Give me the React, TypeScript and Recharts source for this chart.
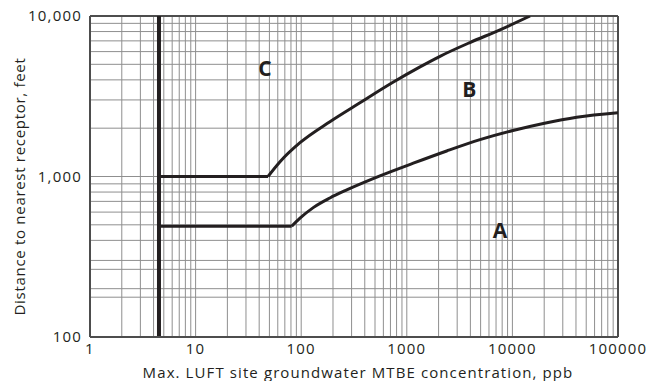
import React from 'react';
import { LineChart, Line, XAxis, YAxis, CartesianGrid, ReferenceLine, ReferenceDot } from 'recharts';

// ---- data ----
const X_TICKS = [1, 10, 100, 1000, 10000, 100000];
const Y_TICKS = [100, 1000, 10000];

const X_GRID = [
  1, 2, 3, 4, 5, 6, 7, 8, 9,
  10, 20, 30, 40, 50, 60, 70, 80, 90,
  100, 200, 300, 400, 500, 600, 700, 800, 900,
  1000, 2000, 3000, 4000, 5000, 6000, 7000, 8000, 9000,
  10000, 20000, 30000, 40000, 50000, 60000, 70000, 80000, 90000,
  100000,
];
const Y_GRID = [
  100, 177, 200, 264, 300, 400, 500, 600, 700, 800, 900,
  1000, 2000, 3000, 4000, 5000, 6000, 7000, 8000, 9000, 10000,
];

const LIMIT_X = 4.5;

// curve A: flat part then rising part (break at index 1)
const curveAX = [4.5, 81.3, 97.4, 130, 187, 270, 557, 1152, 2387, 4934, 10130, 19620, 40630, 100000];
const curveAY = [490, 490, 550, 640, 735, 825, 1009, 1210, 1442, 1696, 1934, 2139, 2342, 2500];

// curve B: flat part then rising part (break at index 1)
const curveBX = [4.5, 48.5, 63, 97.4, 187, 360, 740, 1334, 2063, 3967, 7630, 14700];
const curveBY = [1000, 1000, 1236, 1624, 2195, 2879, 3864, 4819, 5610, 6836, 8194, 10000];

const REGION_LABELS = ['A', 'B', 'C'];
const REGION_X = [7630, 3900, 45.4];
const REGION_Y = [461, 3484, 4720];

const X_TITLE = 'Max. LUFT site groundwater MTBE concentration, ppb';
const Y_TITLE = 'Distance to nearest receptor, feet';

const FONT = '"Open Sans", sans-serif';
const INK = '#231f20';
const FRAME = '#4d4d4d';
const GRID = '#8f8f8f';

const fmtY = (v: number) => v.toLocaleString('en-US');

const toPts = (xs: number[], ys: number[]) => xs.map((x, i) => ({ x, y: ys[i] }));

export default function App() {
  const flatA = toPts(curveAX.slice(0, 2), curveAY.slice(0, 2));
  const riseA = toPts(curveAX.slice(1), curveAY.slice(1));
  const flatB = toPts(curveBX.slice(0, 2), curveBY.slice(0, 2));
  const riseB = toPts(curveBX.slice(1), curveBY.slice(1));

  const xTitle = (props: any) => {
    const vb = props.viewBox;
    return (
      <text
        x={vb.x + vb.width / 2 + 4}
        y={vb.y + vb.height - 3.5}
        textAnchor="middle"
        fill={INK}
        fontSize={15}
        fontFamily={FONT}
        letterSpacing={1.1}
      >
        {X_TITLE}
      </text>
    );
  };

  const yTitle = (props: any) => {
    const vb = props.viewBox;
    const cy = vb.y + vb.height / 2 + 10;
    return (
      <text
        x={0}
        y={0}
        transform={`translate(25, ${cy}) rotate(-90)`}
        textAnchor="middle"
        fill={INK}
        fontSize={15}
        fontFamily={FONT}
        letterSpacing={0.7}
      >
        {Y_TITLE}
      </text>
    );
  };

  const regionLabel = (txt: string) => (props: any) => {
    const vb = props.viewBox;
    return (
      <text
        x={vb.x + vb.width / 2}
        y={vb.y + vb.height / 2}
        dy="0.36em"
        textAnchor="middle"
        fill={INK}
        fontSize={21}
        fontWeight={700}
        fontFamily={FONT}
      >
        {txt}
      </text>
    );
  };

  const lineProps = {
    dataKey: 'y',
    stroke: INK,
    strokeWidth: 3,
    dot: false,
    activeDot: false,
    isAnimationActive: false,
  } as const;

  return (
    <div style={{ position: 'absolute', left: 0, top: 0, width: 660, height: 381, background: '#fff' }}>
      <LineChart width={660} height={381} margin={{ top: 16, right: 42, bottom: 0, left: 0 }}>
        <CartesianGrid
          stroke={GRID}
          strokeWidth={1}
          horizontalValues={Y_GRID}
          verticalValues={X_GRID}
        />
        <XAxis
          type="number"
          dataKey="x"
          scale="log"
          domain={[1, 100000]}
          ticks={X_TICKS}
          interval={0}
          allowDataOverflow
          height={44}
          tickLine={false}
          tickSize={0}
          tickMargin={6}
          axisLine={{ stroke: FRAME, strokeWidth: 2 }}
          tick={{ fill: INK, fontSize: 15, fontFamily: FONT, letterSpacing: 1.2 }}
          tickFormatter={(v: number) => String(v)}
          label={xTitle}
        />
        <YAxis
          type="number"
          dataKey="y"
          scale="log"
          domain={[100, 10000]}
          ticks={Y_TICKS}
          interval={0}
          allowDataOverflow
          width={90}
          tickLine={false}
          tickSize={0}
          tickMargin={8}
          axisLine={{ stroke: FRAME, strokeWidth: 2 }}
          tick={{ fill: INK, fontSize: 15, fontFamily: FONT, letterSpacing: 1.2 }}
          tickFormatter={fmtY}
          label={yTitle}
        />
        <ReferenceLine y={10000} stroke={FRAME} strokeWidth={2} />
        <ReferenceLine x={100000} stroke={FRAME} strokeWidth={2} />
        <ReferenceLine x={LIMIT_X} stroke={INK} strokeWidth={4} />
        <Line data={flatA} type="linear" {...lineProps} />
        <Line data={riseA} type="monotone" {...lineProps} />
        <Line data={flatB} type="linear" {...lineProps} />
        <Line data={riseB} type="monotone" {...lineProps} />
        {REGION_LABELS.map((t, i) => (
          <ReferenceDot
            key={t}
            x={REGION_X[i]}
            y={REGION_Y[i]}
            r={0}
            fill="none"
            stroke="none"
            label={regionLabel(t)}
          />
        ))}
      </LineChart>
    </div>
  );
}
